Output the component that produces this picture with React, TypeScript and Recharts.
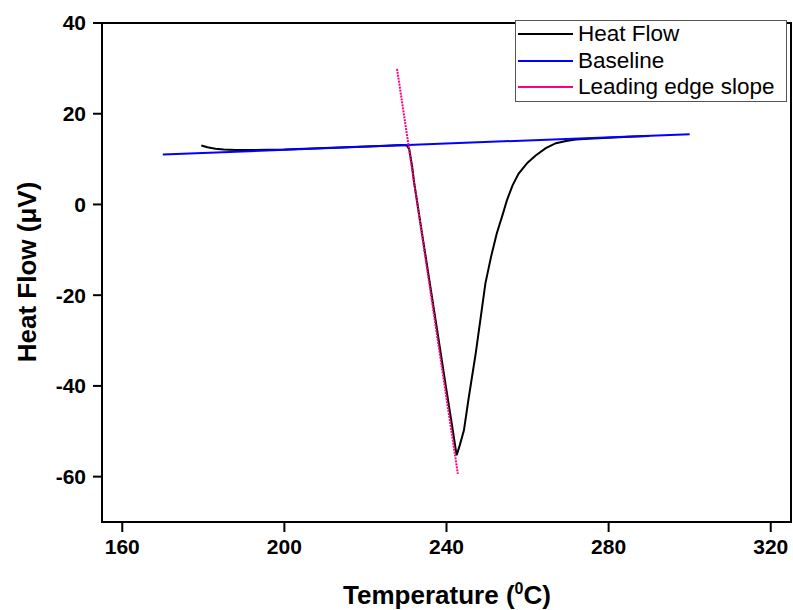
import { LineChart, Line, XAxis, YAxis, Legend, ReferenceArea } from 'recharts'

// DSC trace
const heatFlowT = [
  179.5, 181, 183, 185, 188, 192, 196, 200, 205, 210, 215, 220, 225, 229, 230.2, 230.8, 231.5,
  232, 234, 236, 238, 240, 241.5, 242.5, 243.3, 244.3, 245.5, 247.2, 248.5, 249.6, 251, 252.4,
  254, 254.9, 256.3, 257.8, 260, 262, 264.5, 267, 269.5, 271.9, 275, 280, 285, 290,
]
const heatFlowV = [
  13.0, 12.6, 12.3, 12.1, 12.0, 12.0, 12.05, 12.1, 12.3, 12.45, 12.6, 12.8, 12.95, 13.1, 13.0, 12.2, 8.5,
  4.9, -6.6, -18.0, -29.5, -41.0, -49.5, -55.3, -53.0, -49.8, -42.5, -32.9, -24.5, -17.4, -11.5, -6.4,
  -1.8, 0.9, 4.2, 6.8, 9.2, 10.8, 12.4, 13.5, 14.0, 14.3, 14.5, 14.7, 14.9, 15.1,
]
const baselineT = [170, 300]
const baselineV = [11.0, 15.5]
const slopeT = [227.8, 242.8]
const slopeV = [29.9, -59.4]

const seriesNames = ['Heat Flow', 'Baseline', 'Leading edge slope']
const xTicks = [160, 200, 240, 280, 320]
const yTicks = [-60, -40, -20, 0, 20, 40]
const xDomain: [number, number] = [155, 325]
const yDomain: [number, number] = [-70, 40]

const toRows = (t: number[], v: number[]) => t.map((x, i) => ({ t: x, v: v[i] }))

const FONT = '"Liberation Sans", Arial, sans-serif'
const tickStyle = { fill: '#000', fontSize: 21, fontWeight: 700, fontFamily: FONT }

const XTitle = () => (
  <text x={447} y={604} textAnchor="middle" fontFamily={FONT} fontSize={26} fontWeight={700} fill="#000">
    Temperature (
    <tspan dy={-10} fontSize={16}>0</tspan>
    <tspan dy={10}>C)</tspan>
  </text>
)

const YTitle = () => (
  <text
    x={27}
    y={272}
    transform="rotate(-90, 27, 272)"
    textAnchor="middle"
    dominantBaseline="central"
    fontFamily={FONT}
    fontSize={26}
    fontWeight={700}
    fill="#000"
  >
    Heat Flow (μV)
  </text>
)

const renderLegend = (props: any) => {
  const items = [...(props.payload || [])].sort(
    (a: any, b: any) => seriesNames.indexOf(a.value) - seriesNames.indexOf(b.value),
  )
  return (
    <div
      style={{
        border: '1px solid #555',
        background: '#fff',
        width: 272,
        boxSizing: 'border-box',
        fontFamily: FONT,
        fontSize: 22.5,
        color: '#000',
      }}
    >
      {items.map((it: any) => (
        <div key={it.value} style={{ display: 'flex', alignItems: 'center', height: 26.5 }}>
          <div style={{ marginLeft: 2, width: 55, height: 2, background: it.color }} />
          <span style={{ marginLeft: 5, whiteSpace: 'nowrap' }}>{it.value}</span>
        </div>
      ))}
    </div>
  )
}

export default function App() {
  return (
    <div style={{ position: 'absolute', left: 0, top: 0, width: 793, height: 610, background: '#fff' }}>
      <LineChart width={793} height={610} margin={{ top: 23, right: 2, left: 42, bottom: 48 }}>
        <XAxis
          dataKey="t"
          type="number"
          domain={xDomain}
          ticks={xTicks}
          allowDataOverflow
          stroke="#000"
          strokeWidth={2}
          tickSize={10}
          tickMargin={7}
          tick={tickStyle}
          height={40}
          label={<XTitle />}
        />
        <YAxis
          type="number"
          domain={yDomain}
          ticks={yTicks}
          allowDataOverflow
          stroke="#000"
          strokeWidth={2}
          tickSize={9}
          tickMargin={7}
          tick={tickStyle}
          width={60}
          label={<YTitle />}
        />
        <ReferenceArea
          x1={xDomain[0]}
          x2={xDomain[1]}
          y1={yDomain[0]}
          y2={yDomain[1]}
          fill="none"
          stroke="#000"
          strokeWidth={2}
          fillOpacity={0}
        />
        <Line
          data={toRows(heatFlowT, heatFlowV)}
          dataKey="v"
          name="Heat Flow"
          type="linear"
          stroke="#000"
          strokeWidth={2}
          dot={false}
          isAnimationActive={false}
        />
        <Line
          data={toRows(baselineT, baselineV)}
          dataKey="v"
          name="Baseline"
          type="linear"
          stroke="#0000ff"
          strokeWidth={2}
          dot={false}
          isAnimationActive={false}
        />
        <Line
          data={toRows(slopeT, slopeV)}
          dataKey="v"
          name="Leading edge slope"
          type="linear"
          stroke="#ff0080"
          strokeWidth={2}
          strokeDasharray="2 1"
          dot={false}
          isAnimationActive={false}
        />
        <Legend
          layout="vertical"
          align="center"
          verticalAlign="middle"
          content={renderLegend}
          wrapperStyle={{ left: 515, top: 20, width: 273 }}
        />
      </LineChart>
    </div>
  )
}
